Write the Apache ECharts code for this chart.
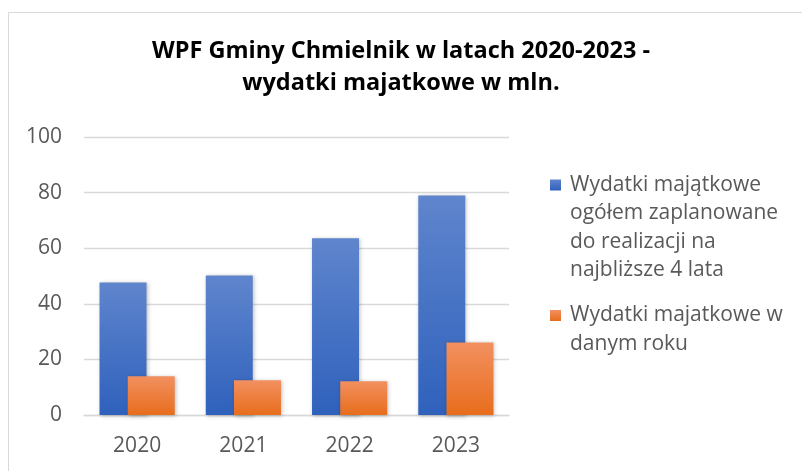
<!DOCTYPE html>
<html>
<head>
<meta charset="utf-8">
<script src="https://cdn.jsdelivr.net/npm/echarts@6/dist/echarts.min.js"></script>
<style>html,body{margin:0;padding:0;background:#fff}#c{width:802px;height:471px}</style>
</head>
<body>
<div id="c"></div>
<script>
const titleText = 'WPF Gminy Chmielnik w latach 2020-2023 -\nwydatki majatkowe w mln.';
const categories = ['2020', '2021', '2022', '2023'];
const seriesNames = [
  'Wydatki majątkowe ogółem zaplanowane do realizacji na najbliższe 4 lata',
  'Wydatki majatkowe w danym roku'
];
const legendLines = [
  ['Wydatki majątkowe', 'ogółem zaplanowane', 'do realizacji na', 'najbliższe 4 lata'],
  ['Wydatki majatkowe w', 'danym roku']
];
const plannedValues = [47.7, 50.2, 63.6, 79.0];
const yearlyValues = [13.9, 12.5, 12.1, 26.1];
const yTicks = { min: 0, max: 100, interval: 20 };

const FONT = '"Open Sans", sans-serif';
const LH = 28.5;
const chart = echarts.init(document.getElementById('c'));

function grad(top, bottom) {
  return new echarts.graphic.LinearGradient(0, 0, 0, 1, [
    { offset: 0, color: top }, { offset: 1, color: bottom }
  ]);
}
// first text line is kept level with the icon by padding with empty lines above
function legendFor(i, iconCenter) {
  const n = legendLines[i].length;
  const boxH = (2 * n - 1) * LH;
  const lines = new Array(n - 1).fill('').concat(legendLines[i]);
  return {
    orient: 'vertical', left: 550, top: iconCenter - boxH / 2, padding: 0,
    itemWidth: 11, itemHeight: 11, icon: 'rect',
    selectedMode: false,
    data: [seriesNames[i]],
    formatter: () => lines.join('\n'),
    textStyle: {
      fontFamily: FONT, fontSize: 21, color: '#595959', lineHeight: LH,
      backgroundColor: 'rgba(0,0,0,0)',
      padding: [0, 0, 0, 4]
    }
  };
}

chart.setOption({
  animation: false,
  backgroundColor: '#fff',
  graphic: [{
    type: 'rect', silent: true, z: -10,
    shape: { x: 8.5, y: 12.5, width: 800, height: 470 },
    style: { fill: 'none', stroke: '#d9d9d9', lineWidth: 1 }
  }],
  title: {
    text: titleText, left: 'center', top: 35, padding: [0, 22, 0, 0],
    textStyle: { fontFamily: FONT, fontSize: 23.5, fontWeight: 'bold', color: '#000', lineHeight: 32 }
  },
  legend: [legendFor(0, 185), legendFor(1, 315.5)],
  grid: { left: 84, right: 293, top: 137, bottom: 56, containLabel: false, outerBoundsMode: 'none' },
  xAxis: {
    type: 'category', data: categories,
    axisTick: { show: false },
    axisLine: { lineStyle: { color: '#d9d9d9', width: 1.3 } },
    axisLabel: { fontFamily: FONT, fontSize: 21, color: '#595959', margin: 21, lineHeight: 21 }
  },
  yAxis: {
    type: 'value', min: yTicks.min, max: yTicks.max, interval: yTicks.interval,
    axisLine: { show: false }, axisTick: { show: false },
    splitLine: { lineStyle: { color: '#d9d9d9', width: 1.3 } },
    axisLabel: { fontFamily: FONT, fontSize: 21, color: '#595959', margin: 22 }
  },
  series: [
    {
      name: seriesNames[0], type: 'bar', data: plannedValues,
      barWidth: 47, barGap: '-40%',
      itemStyle: {
        color: grad('#5f85cd', '#2f61bc'),
        shadowBlur: 4, shadowColor: 'rgba(0,0,0,0.25)', shadowOffsetX: 1, shadowOffsetY: 1
      }
    },
    {
      name: seriesNames[1], type: 'bar', data: yearlyValues,
      barWidth: 47, barGap: '-40%',
      itemStyle: {
        color: grad('#f29060', '#e86d1c'),
        shadowBlur: 4, shadowColor: 'rgba(0,0,0,0.25)', shadowOffsetX: 1, shadowOffsetY: 1
      }
    }
  ]
});
</script>
</body>
</html>
